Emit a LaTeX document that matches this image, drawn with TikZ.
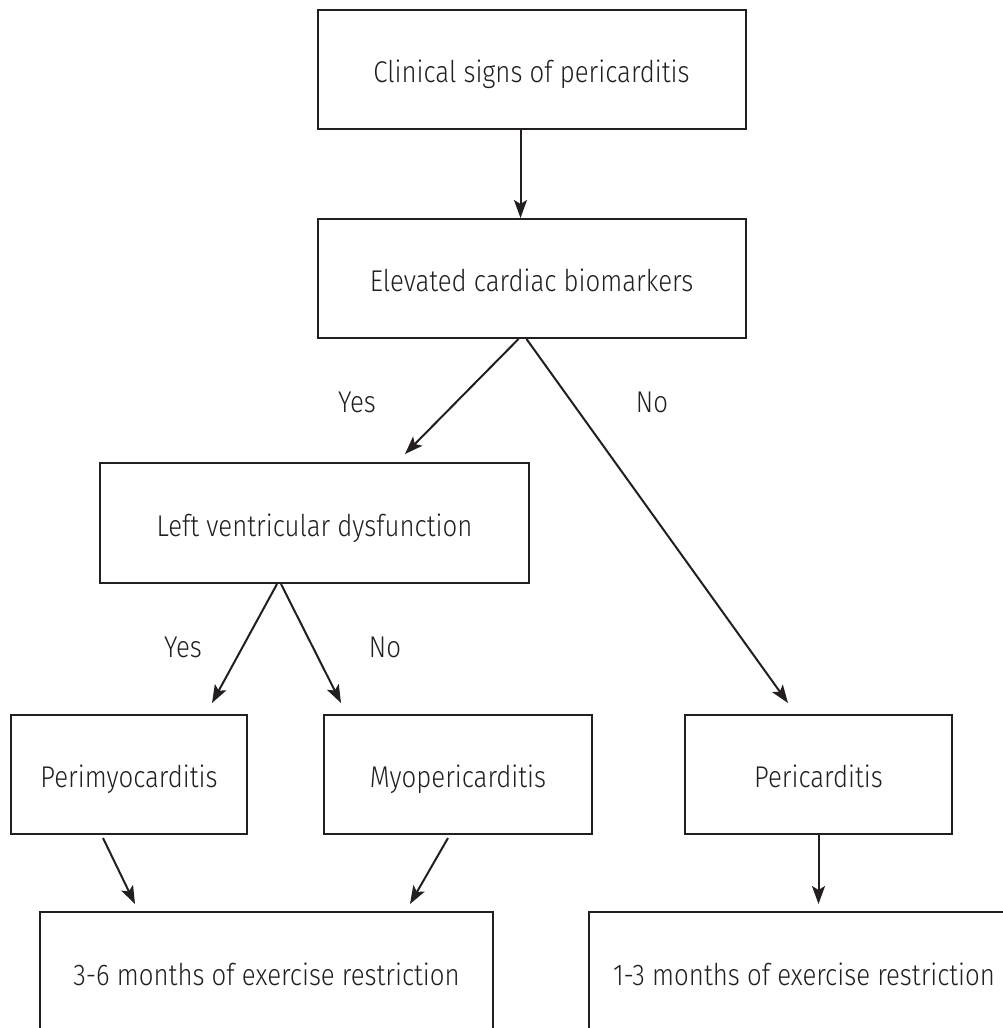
\documentclass[tikz,border=0pt]{standalone}
\usepackage{fontspec}
\setmainfont{Fira Sans}[UprightFont=* Light, FakeStretch=0.86]
\usetikzlibrary{arrows.meta}
\definecolor{ink}{HTML}{231F20}
\begin{document}
\begin{tikzpicture}[x=1pt,y=1pt,
  box/.style={draw=ink, line width=2pt, inner sep=0pt, font=\fontsize{30}{34}\selectfont, text=ink, text height=28pt, text depth=2pt},
  lbl/.style={inner sep=0pt, anchor=base, font=\fontsize{30}{34}\selectfont, text=ink},
  arr/.style={draw=ink, line width=2pt, -{Stealth[length=18pt,width=13pt,inset=4pt]}}]
\useasboundingbox (0,0) rectangle (1003,-1028);
\fill[white] (0,0) rectangle (1003,-1028);
\node[box, minimum width=428pt, minimum height=119pt] (b1) at (531.5,-69.5) {Clinical signs of pericarditis};
\node[box, minimum width=428pt, minimum height=119pt] (b2) at (531.5,-278.5) {Elevated cardiac biomarkers};
\node[box, minimum width=429pt, minimum height=120pt] (b3) at (314.5,-523) {Left ventricular dysfunction};
\node[box, minimum width=236pt, minimum height=119pt] (b4) at (129,-774.5) {Perimyocarditis};
\node[box, minimum width=268pt, minimum height=119pt] (b5) at (458,-774.5) {Myopericarditis};
\node[box, minimum width=267pt, minimum height=119pt] (b6) at (818.5,-774.5) {Pericarditis};
\node[box, minimum width=453pt, minimum height=120pt] (b7) at (266.5,-972) {3-6 months of exercise restriction};
\node[box, minimum width=430pt, minimum height=120pt] (b8) at (804,-972) {1-3 months of exercise restriction};
\node[lbl] (ly1) at (357,-412) {Yes};
\node[lbl] (ln1) at (652,-412) {No};
\node[lbl] (ly2) at (183,-657) {Yes};
\node[lbl] (ln2) at (385,-657) {No};
\draw[arr] ([xshift=-11pt]b1.south) -- ([xshift=-11pt]b2.north);
\draw[arr] ([xshift=-13pt]b2.south) -- ([xshift=90.5pt,yshift=8pt]b3.north);
\draw[arr] ([xshift=-5pt]b2.south) -- ([xshift=-30.5pt,yshift=11pt]b6.north);
\draw[arr] ([xshift=-37.5pt]b3.south) -- ([xshift=83pt,yshift=11pt]b4.north);
\draw[arr] ([xshift=-33.5pt]b3.south) -- ([xshift=-117pt,yshift=11pt]b5.north);
\draw[arr] ([xshift=-26pt,yshift=-3pt]b4.south) -- ([xshift=-131.5pt,yshift=7pt]b7.north);
\draw[arr] ([xshift=-10pt,yshift=-3pt]b5.south) -- ([xshift=143.5pt,yshift=7pt]b7.north);
\draw[arr] ([xshift=0pt]b6.south) -- ([xshift=14.5pt,yshift=7pt]b8.north);
\end{tikzpicture}
\end{document}
